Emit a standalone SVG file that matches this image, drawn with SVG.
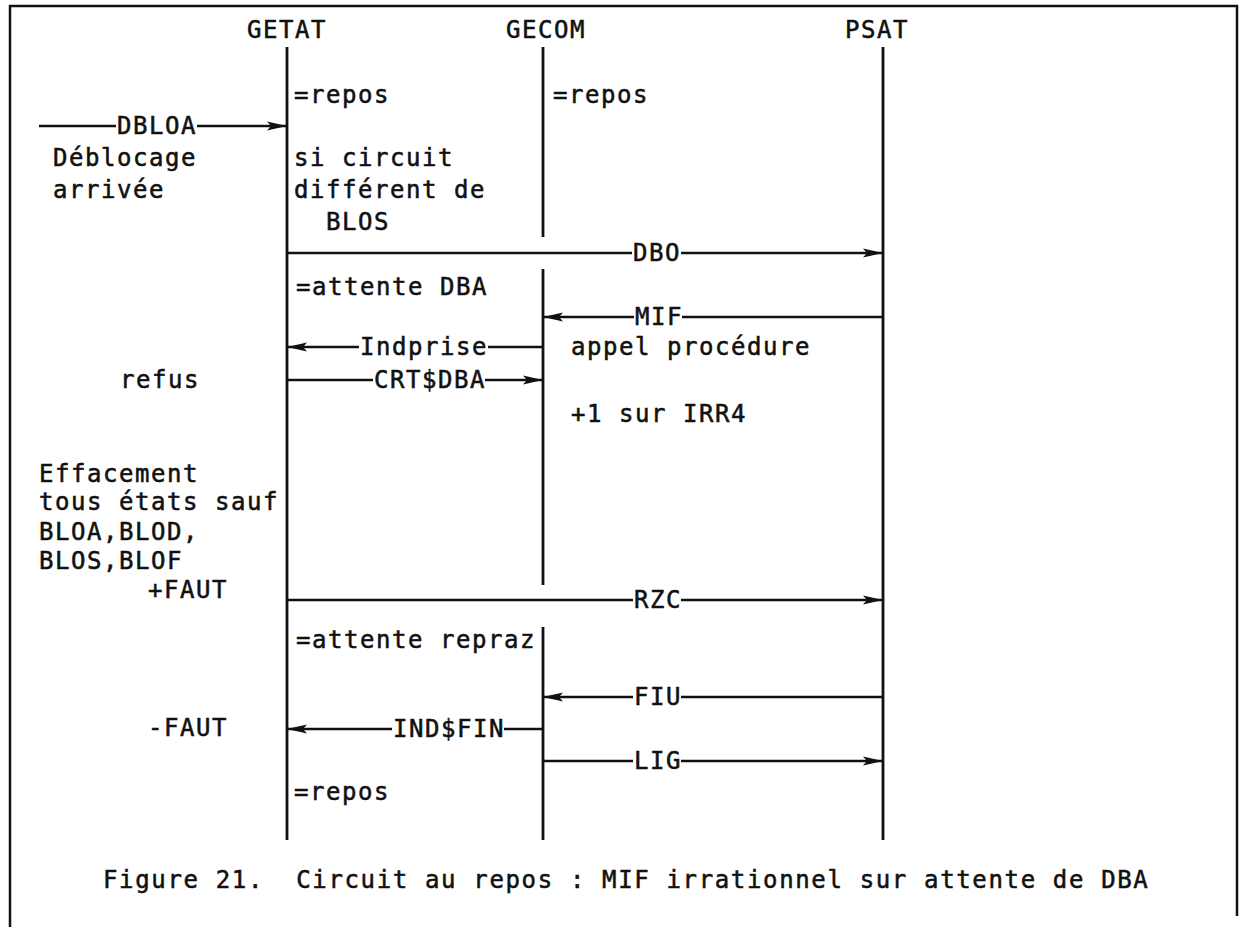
<svg xmlns="http://www.w3.org/2000/svg" width="1245" height="927" viewBox="0 0 1245 927">
<style>
text{font-family:"DejaVu Sans Mono","Liberation Mono",monospace;font-size:24px;letter-spacing:1.55px;fill:#111;stroke:#111;stroke-width:0.55px}
.cap{letter-spacing:1.65px}
.life{stroke:#111;stroke-width:2.8;fill:none}
.msg{stroke:#111;stroke-width:2.4;fill:none}
.frame{stroke:#111;stroke-width:2.5;fill:none}
</style>
<defs>
<marker id="ah" viewBox="0 0 20 11" refX="20" refY="5.5" markerWidth="20" markerHeight="11" markerUnits="userSpaceOnUse" orient="auto">
<path d="M0,1 L20,5.5 L0,10 L4,5.5 z" fill="#111"/>
</marker>
</defs>
<rect width="1245" height="927" fill="#fff"/>
<path class="frame" d="M10,927 V6 H1237 V916"/>

<g id="getat">
<text x="247" y="38">GETAT</text>
<line class="life" x1="287" y1="47" x2="287" y2="840"/>
<text x="294" y="103">=repos</text>
<text x="294" y="166">si circuit</text>
<text x="294" y="198">différent de</text>
<text x="326" y="230">BLOS</text>
<text x="296" y="295">=attente DBA</text>
<text x="296" y="648">=attente repraz</text>
<text x="294" y="800">=repos</text>
</g>

<g id="gecom">
<text x="506" y="38">GECOM</text>
<line class="life" x1="543" y1="47" x2="543" y2="237"/>
<line class="life" x1="543" y1="269" x2="543" y2="585"/>
<line class="life" x1="543" y1="627" x2="543" y2="840"/>
<text x="553" y="103">=repos</text>
<text x="571" y="355">appel procédure</text>
<text x="571" y="422">+1 sur IRR4</text>
</g>

<g id="psat">
<text x="845" y="38">PSAT</text>
<line class="life" x1="883" y1="47" x2="883" y2="840"/>
</g>

<g id="notes-left">
<text x="53" y="166">Déblocage</text>
<text x="53" y="198">arrivée</text>
<text x="120" y="388">refus</text>
<text x="39" y="482">Effacement</text>
<text x="39" y="510">tous états sauf</text>
<text x="39" y="540">BLOA,BLOD,</text>
<text x="39" y="569">BLOS,BLOF</text>
<text x="148" y="598">+FAUT</text>
<text x="148" y="736">-FAUT</text>
</g>

<g id="connectors">
<g id="m-dbloa">
<line class="msg" x1="39" y1="126" x2="116" y2="126"/>
<line class="msg" x1="197" y1="126" x2="287" y2="126" marker-end="url(#ah)"/>
<text x="117" y="134">DBLOA</text>
</g>
<g id="m-dbo">
<line class="msg" x1="287" y1="253" x2="632" y2="253"/>
<line class="msg" x1="681" y1="253" x2="883" y2="253" marker-end="url(#ah)"/>
<text x="633" y="261">DBO</text>
</g>
<g id="m-mif">
<line class="msg" x1="883" y1="317" x2="682" y2="317"/>
<line class="msg" x1="634" y1="317" x2="543" y2="317" marker-end="url(#ah)"/>
<text x="635" y="325">MIF</text>
</g>
<g id="m-indprise">
<line class="msg" x1="543" y1="347" x2="488" y2="347"/>
<line class="msg" x1="359" y1="347" x2="287" y2="347" marker-end="url(#ah)"/>
<text x="360" y="355">Indprise</text>
</g>
<g id="m-crtdba">
<line class="msg" x1="287" y1="380" x2="373" y2="380"/>
<line class="msg" x1="485" y1="380" x2="543" y2="380" marker-end="url(#ah)"/>
<text x="374" y="388">CRT$DBA</text>
</g>
<g id="m-rzc">
<line class="msg" x1="287" y1="600" x2="633" y2="600"/>
<line class="msg" x1="681" y1="600" x2="883" y2="600" marker-end="url(#ah)"/>
<text x="634" y="608">RZC</text>
</g>
<g id="m-fiu">
<line class="msg" x1="883" y1="697" x2="681" y2="697"/>
<line class="msg" x1="633" y1="697" x2="543" y2="697" marker-end="url(#ah)"/>
<text x="634" y="705">FIU</text>
</g>
<g id="m-indfin">
<line class="msg" x1="543" y1="729" x2="504" y2="729"/>
<line class="msg" x1="392" y1="729" x2="287" y2="729" marker-end="url(#ah)"/>
<text x="393" y="737">IND$FIN</text>
</g>
<g id="m-lig">
<line class="msg" x1="543" y1="761" x2="633" y2="761"/>
<line class="msg" x1="681" y1="761" x2="883" y2="761" marker-end="url(#ah)"/>
<text x="634" y="769">LIG</text>
</g>
</g>

<g id="caption">
<text class="cap" x="103" y="888" xml:space="preserve">Figure 21.  Circuit au repos : MIF irrationnel sur attente de DBA</text>
</g>
</svg>
